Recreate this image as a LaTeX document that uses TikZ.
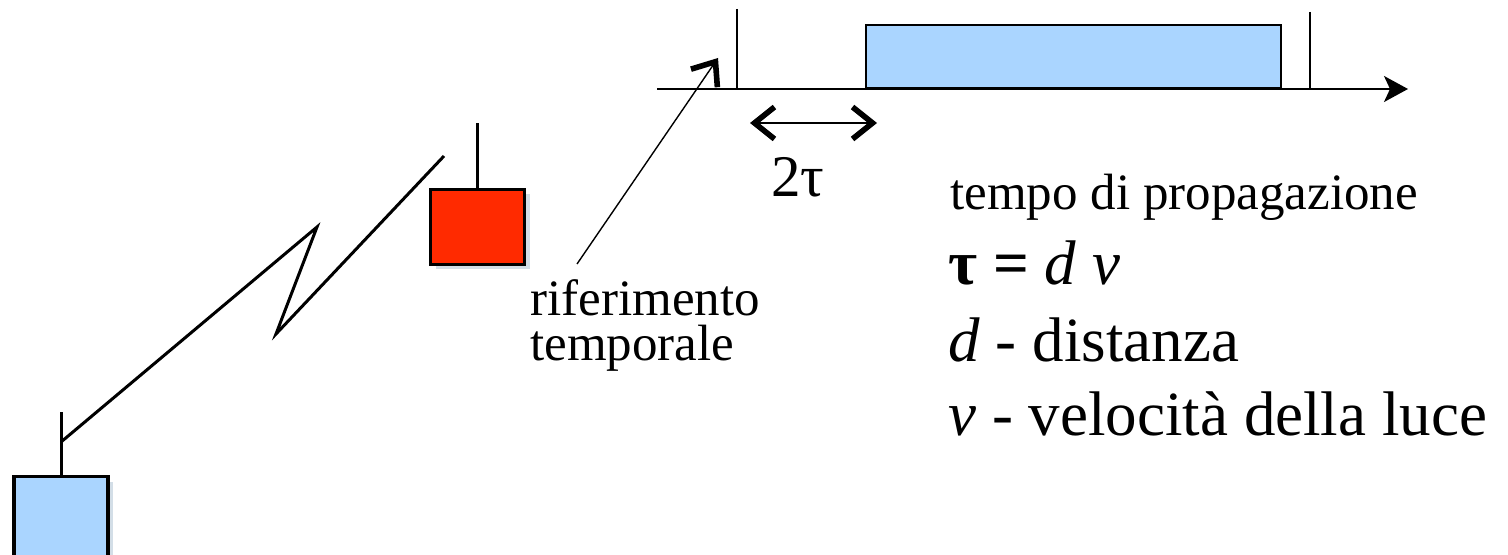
\documentclass[tikz,border=0pt]{standalone}
\usepackage{fontspec}
\setmainfont{Liberation Serif}
\usetikzlibrary{arrows.meta,positioning,calc,shadows}
\definecolor{stnblue}{RGB}{170,213,255}
\definecolor{stnred}{RGB}{255,42,0}
\definecolor{shadeblue}{RGB}{110,145,175}
\tikzset{
  station/.style={rectangle, draw=black, line width=1.6pt, inner sep=0pt,
                  minimum width=47pt, minimum height=37.5pt,
                  drop shadow={shadow xshift=2.5pt, shadow yshift=-2.5pt, fill=shadeblue, opacity=0.3}},
  mast/.style={line width=1.5pt},
  link/.style={line width=1.5pt, line join=miter},
  timeaxis/.style={line width=1pt, -{Stealth[length=12pt, width=13pt, inset=3pt]}},
  tline/.style={line width=1pt},
  pulse/.style={rectangle, draw=black, line width=1pt, fill=stnblue, inner sep=0pt,
                minimum width=207.5pt, minimum height=31.5pt},
  barb/.tip={Straight Barb[length=10pt, width=16pt, line width=2.8pt]},
  span/.style={line width=0.7pt, barb-barb},
  pointer/.style={line width=0.7pt, -barb},
  txt/.style={inner sep=0pt, anchor=base west},
  bigtxt/.style={txt, font=\fontsize{31.5}{36}\selectfont},
  smalltxt/.style={txt, font=\fontsize{25.5}{30}\selectfont},
}

\begin{document}
\begin{tikzpicture}[x=0.5pt, y=-0.5pt]
  \useasboundingbox (0,0) rectangle (1508,555);
  \clip (0,0) rectangle (1508,555);
  % stations
  \node[station, fill=stnblue, minimum height=42pt] (gnd) at (61,518.5) {};
  \node[station, fill=stnred] (sat) at (477.5,227) {};
  \coordinate (gtop) at (61,412);
  \coordinate (stop) at (477.5,123);
  \draw[mast] (gnd.north) -- (gtop);
  \draw[mast] (sat.north) -- (stop);
  % radio link
  \coordinate (z0) at (61,442);
  \coordinate (z1) at (317,227);
  \coordinate (z2) at (276,334);
  \coordinate (z3) at (444,156);
  \draw[link] (z0) -- (z1) -- (z2) -- (z3);
  % time axis
  \coordinate (ax0) at (657,89);
  \coordinate (ax1) at (1408,89);
  \node[pulse] (pls) at (1073.5,56.5) {};
  \draw[timeaxis] (ax0) -- (ax1);
  \coordinate (t0) at (737,9);
  \coordinate (t1) at (1310,12);
  \draw[tline] (t0) -- (t0 |- ax0);
  \draw[tline] (t1) -- (t1 |- ax0);
  \coordinate (sp0) at (750,123);
  \coordinate (sp1) at (877,123);
  \draw[span] (sp0) -- (sp1);
  \node[txt, font=\fontsize{29.5}{32}\selectfont] (dt) at (771,197) {2τ};
  % reference label
  \node[smalltxt, align=left, font=\fontsize{25.5}{22.5}\selectfont] (rif) at (530,360) {riferimento\\temporale};
  \coordinate (rfoot) at (577,264);
  \coordinate (rtip) at (718,58);
  \draw[pointer] (rfoot) -- (rtip);
  % legend
  \node[smalltxt] (l1) at (950,210) {tempo di propagazione};
  \node[bigtxt] (l2) at (948,285) {\textbf{τ =} \textit{d v}};
  \node[bigtxt] (l3) at (948,361) {\textit{d} - distanza};
  \node[bigtxt] (l4) at (948,435) {\textit{v} - velocità della luce};
\end{tikzpicture}
\end{document}
